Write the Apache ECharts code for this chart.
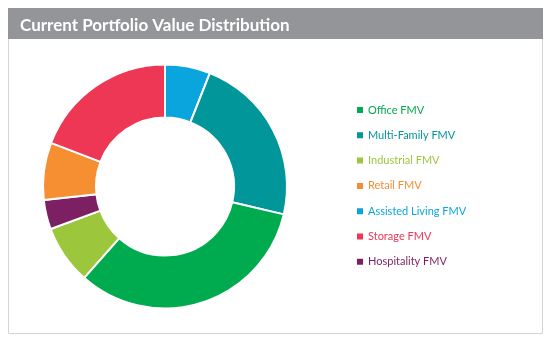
<!DOCTYPE html>
<html>
<head>
<meta charset="utf-8">
<script src="https://cdn.jsdelivr.net/npm/echarts@6/dist/echarts.min.js"></script>
<style>html,body{margin:0;padding:0;background:#fff;}#c{width:551px;height:343px;}</style>
</head>
<body>
<div id="c"></div>
<script>
// Slices in drawing order (clockwise from 12 o'clock)
const categories = ['Assisted Living FMV','Multi-Family FMV','Office FMV','Industrial FMV','Hospitality FMV','Retail FMV','Storage FMV'];
const values = [6.0, 22.7, 32.9, 7.8, 3.9, 7.6, 19.2];
const colors = ['#0ba5dd','#00969a','#00aa4e','#9cc73c','#7d1f63','#f68e32','#ee3655'];
// Legend order
const legendOrder = ['Office FMV','Multi-Family FMV','Industrial FMV','Retail FMV','Assisted Living FMV','Storage FMV','Hospitality FMV'];
const titleText = 'Current Portfolio Value Distribution';

const colorOf = {};
categories.forEach((c,i)=>colorOf[c]=colors[i]);

const chart = echarts.init(document.getElementById('c'));
chart.setOption({
  animation:false,
  graphic:[
    {type:'rect', shape:{x:8.5,y:8.5,width:534,height:325}, style:{fill:'#fff',stroke:'#d4d4d4',lineWidth:1}, z:-10},
    {type:'rect', shape:{x:8,y:8,width:535,height:31}, style:{fill:'#939598'}, z:-5}
  ],
  title:{text:titleText, left:15, top:12, textStyle:{color:'#fff',fontFamily:'Lato',fontWeight:'bold',fontSize:17}},
  legend:{
    orient:'vertical', left:355, top:103, padding:0, itemWidth:8, itemHeight:8, itemGap:11.3,
    icon:'rect',
    textStyle:{fontFamily:'Lato',fontSize:11,lineHeight:14, padding:[0,0,0,-1]},
    data: legendOrder.map(n=>({name:n, textStyle:{color:colorOf[n]}}))
  },
  series:[{
    type:'pie', center:[165,186.5], radius:[69,122], startAngle:90, clockwise:true,
    label:{show:false}, labelLine:{show:false}, silent:true,
    itemStyle:{borderColor:'#fff',borderWidth:2},
    data: categories.map((n,i)=>({name:n,value:values[i],itemStyle:{color:colors[i]}}))
  }]
});
</script>
</body>
</html>
